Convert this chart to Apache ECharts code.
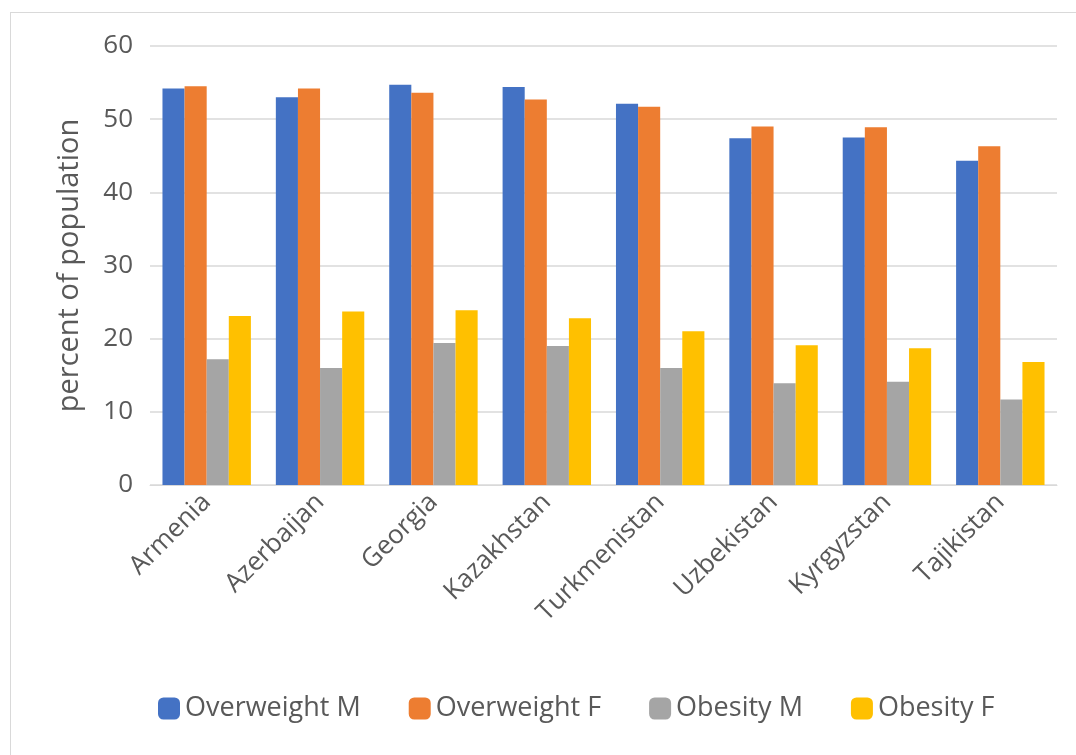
<!DOCTYPE html>
<html>
<head>
<meta charset="utf-8">
<script src="https://cdn.jsdelivr.net/npm/echarts@6/dist/echarts.min.js"></script>
<style>
  body { margin: 0; background: #fff; }
  #frame { position: absolute; left: 10px; top: 12px; width: 1070px; height: 750px; border: 1px solid #d9d9d9; box-sizing: border-box; }
  #container { position: absolute; left: 0; top: 0; width: 1076px; height: 755px; }
</style>
</head>
<body>
<div id="frame"></div>
<div id="container"></div>
<script>
var countries = ['Armenia', 'Azerbaijan', 'Georgia', 'Kazakhstan', 'Turkmenistan', 'Uzbekistan', 'Kyrgyzstan', 'Tajikistan'];
var overweightM = [54.2, 53.0, 54.7, 54.4, 52.1, 47.4, 47.5, 44.3];
var overweightF = [54.5, 54.2, 53.6, 52.7, 51.7, 49.0, 48.9, 46.3];
var obesityM = [17.2, 16.0, 19.4, 19.0, 16.0, 13.9, 14.1, 11.7];
var obesityF = [23.1, 23.7, 23.9, 22.8, 21.0, 19.1, 18.7, 16.8];
var yTicks = [0, 10, 20, 30, 40, 50, 60];

var font = 'Open Sans';
var chart = echarts.init(document.getElementById('container'));

function bar(name, data, color) {
    return {
        name: name,
        type: 'bar',
        data: data,
        barGap: '0%',
        barCategoryGap: '22%',
        itemStyle: { color: color }
    };
}

chart.setOption({
    textStyle: { fontFamily: font },
    legend: {
        bottom: 28,
        left: 153,
        itemWidth: 22,
        itemHeight: 22,
        itemGap: 48,
        textStyle: { fontSize: 27, color: '#595959', fontFamily: font },
        data: ['Overweight M', 'Overweight F', 'Obesity M', 'Obesity F']
    },
    grid: { left: 150, right: 19, top: 46, bottom: 270, containLabel: false },
    xAxis: {
        type: 'category',
        data: countries,
        axisLine: { lineStyle: { color: '#d9d9d9' } },
        axisTick: { show: false },
        axisLabel: { rotate: 45, fontSize: 26, color: '#595959', margin: 13, fontFamily: font }
    },
    yAxis: {
        type: 'value',
        min: yTicks[0],
        max: yTicks[yTicks.length - 1],
        interval: 10,
        name: 'percent of population',
        nameLocation: 'middle',
        nameGap: 66,
        nameTextStyle: { fontSize: 29, color: '#595959', fontFamily: font },
        axisLabel: { fontSize: 26, color: '#595959', margin: 17, fontFamily: font },
        splitLine: { lineStyle: { color: '#d9d9d9', width: 1.5 } },
        axisLine: { show: false },
        axisTick: { show: false }
    },
    series: [
        bar('Overweight M', overweightM, '#4472c4'),
        bar('Overweight F', overweightF, '#ed7d31'),
        bar('Obesity M', obesityM, '#a5a5a5'),
        bar('Obesity F', obesityF, '#ffc000')
    ]
});
</script>
</body>
</html>
